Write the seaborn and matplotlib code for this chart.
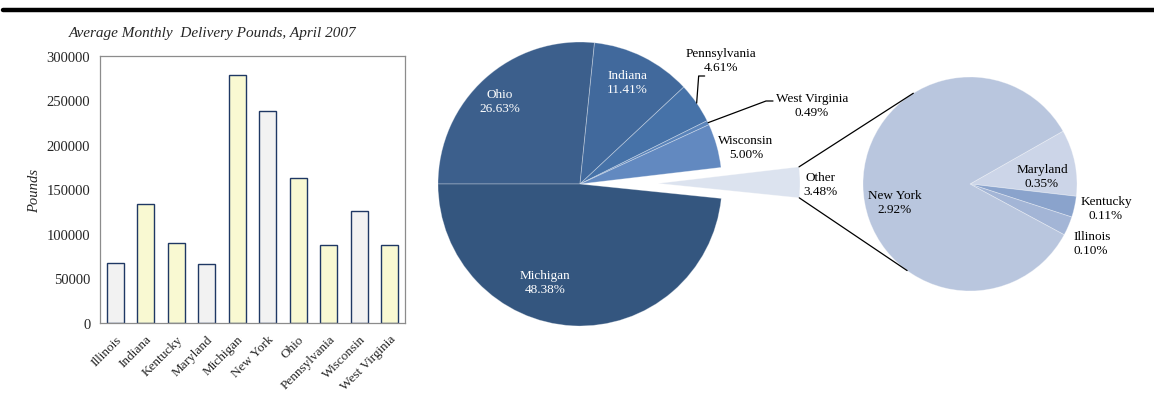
import matplotlib
matplotlib.use("Agg")
import matplotlib.pyplot as plt
import seaborn as sns
import numpy as np
import pandas as pd
from matplotlib.lines import Line2D

# ---------------- data ----------------
states = ["Illinois", "Indiana", "Kentucky", "Maryland", "Michigan",
          "New York", "Ohio", "Pennsylvania", "Wisconsin", "West Virginia"]
pounds = [67500, 134000, 89500, 66500, 279000, 238000, 162500, 87500, 126000, 87500]
bar_colors = ["#f2f2f2", "#ffffcc", "#ffffcc", "#f2f2f2", "#ffffcc",
              "#f2f2f2", "#ffffcc", "#ffffcc", "#f2f2f2", "#ffffcc"]

main_labels = ["Ohio", "Indiana", "Pennsylvania", "West Virginia", "Wisconsin", "Other", "Michigan"]
main_pct = [26.63, 11.41, 4.61, 0.49, 5.00, 3.48, 48.38]
main_colors = ["#3c5f8c", "#41699c", "#4672a8", "#5a84ba", "#6289c0", "#dce3ef", "#34567f"]

sub_labels = ["Maryland", "Kentucky", "Illinois", "New York"]
sub_pct = [0.35, 0.11, 0.10, 2.92]
sub_colors = ["#ccd5e8", "#8aa3cc", "#a3b5d6", "#b9c6de"]

title = "Average Monthly  Delivery Pounds, April 2007"
ylabel = "Pounds"
yticks = [0, 50000, 100000, 150000, 200000, 250000, 300000]

# ---------------- style ----------------
sns.set_theme(style="white")
plt.rcParams["font.family"] = ["Liberation Serif", "DejaVu Serif"]

W, H = 1154, 414
fig = plt.figure(figsize=(W / 100, H / 100), dpi=100)

# ---------------- bar chart ----------------
axb = fig.add_axes([100 / W, 1 - 324 / H, 305 / W, 267 / H])
df = pd.DataFrame({"state": states, "pounds": pounds})
sns.barplot(data=df, x="state", y="pounds", hue="state", palette=bar_colors,
            legend=False, width=0.57, edgecolor="#1f3864", linewidth=1.0, ax=axb)
axb.set_ylim(0, 300000)
axb.set_xlim(-0.5, len(states) - 0.5)
axb.set_yticks(yticks)
axb.set_yticklabels([str(v) for v in yticks], fontsize=10.5)
axb.set_xticks(range(len(states)))
axb.set_xticklabels(states, rotation=45, ha="right", rotation_mode="anchor", fontsize=9.5)
axb.set_xticks(np.arange(-0.5, len(states), 1.0), minor=True)
axb.tick_params(axis="x", which="major", length=0, pad=7)
axb.tick_params(axis="x", which="minor", length=4, direction="out", color="#808080", width=0.8)
axb.tick_params(axis="y", length=4, direction="out", color="#808080", width=0.8, pad=3)
axb.set_xlabel("")
axb.set_ylabel(ylabel, fontsize=10.5, style="italic", labelpad=4)
for s in axb.spines.values():
    s.set_color("#8c8c8c")
    s.set_linewidth(0.9)
fig.text(213 / W, 1 - 33 / H, title, ha="center", va="center", fontsize=11, style="italic")

# ---------------- pies (overlay axes in pixel units) ----------------
axp = fig.add_axes([0, 0, 1, 1], zorder=-1)
axp.axis("off")

c1 = (580, H - 185)
r1 = 142
explode = [78 if l == "Other" else 0 for l in main_labels]
w1, _ = axp.pie(main_pct, colors=main_colors, startangle=180, counterclock=False,
                center=c1, radius=r1, explode=explode,
                wedgeprops=dict(edgecolor=(1, 1, 1, 0.35), linewidth=0.6))

c2 = (970, H - 185)
r2 = 107
tot = sum(sub_pct)
start2 = sub_pct[0] / tot * 360 / 2 + 11.5
w2, _ = axp.pie(sub_pct, colors=sub_colors, startangle=start2, counterclock=False,
                center=c2, radius=r2,
                wedgeprops=dict(edgecolor=(1, 1, 1, 0.35), linewidth=0.6))
axp.set_xlim(0, W)
axp.set_ylim(0, H)
axp.set_aspect("equal")
axp.set_position([0, 0, 1, 1])

def fmt(l, p):
    return f"{l}\n{p:.2f}%"

txt_kw = dict(ha="center", va="center", fontsize=9.5, linespacing=1.15)
main_pos = {"Ohio": (500, 102, "white"), "Indiana": (627, 83, "white"),
            "Michigan": (545, 283, "white"), "Pennsylvania": (721, 61, "black"),
            "West Virginia": (812, 106, "black"), "Wisconsin": (746, 148, "black"),
            "Other": (820, 185, "black")}
for l, p in zip(main_labels, main_pct):
    x, y, col = main_pos[l]
    axp.text(x, H - y, fmt(l, p), color=col, **txt_kw)

def mid_point(w, frac=1.0):
    a = np.deg2rad((w.theta1 + w.theta2) / 2)
    cx, cy = w.center
    return cx + w.r * frac * np.cos(a), cy + w.r * frac * np.sin(a)

wp = w1[main_labels.index("Pennsylvania")]
x0, y0 = mid_point(wp)
axp.add_line(Line2D([x0, x0 + 2, x0 + 8], [y0, H - 77, H - 77], color="black", lw=0.9))
wv = w1[main_labels.index("West Virginia")]
x0, y0 = mid_point(wv)
axp.add_line(Line2D([x0, 766, 773], [y0, H - 102, H - 102], color="black", lw=0.9))

# connectors from Other wedge to sub pie
wo = w1[main_labels.index("Other")]
cx, cy = wo.center
t_hi = max(wo.theta1, wo.theta2)
t_lo = min(wo.theta1, wo.theta2)
p_hi = (cx + r1 * np.cos(np.deg2rad(t_hi)), cy + r1 * np.sin(np.deg2rad(t_hi)))
p_lo = (cx + r1 * np.cos(np.deg2rad(t_lo)), cy + r1 * np.sin(np.deg2rad(t_lo)))
a_top = np.deg2rad(122)
a_bot = np.deg2rad(-126)
q_top = (c2[0] + r2 * np.cos(a_top), c2[1] + r2 * np.sin(a_top))
q_bot = (c2[0] + r2 * np.cos(a_bot), c2[1] + r2 * np.sin(a_bot))
axp.add_line(Line2D([p_hi[0], q_top[0]], [p_hi[1], q_top[1]], color="black", lw=0.9))
axp.add_line(Line2D([p_lo[0], q_bot[0]], [p_lo[1], q_bot[1]], color="black", lw=0.9))

sub_pos = {"New York": (895, 203, "center"), "Maryland": (1042, 177, "center"),
           "Kentucky": (1106, 209, "center"), "Illinois": (1073, 244, "left")}
for l, p in zip(sub_labels, sub_pct):
    x, y, ha = sub_pos[l]
    kw = dict(txt_kw)
    kw["ha"] = ha
    axp.text(x, H - y, fmt(l, p), color="black", **kw)

fig.add_artist(Line2D([3 / W, 1], [1 - 11 / H, 1 - 11 / H], color="black", lw=3.2,
                      transform=fig.transFigure))

fig.savefig("out.png", dpi=100)
